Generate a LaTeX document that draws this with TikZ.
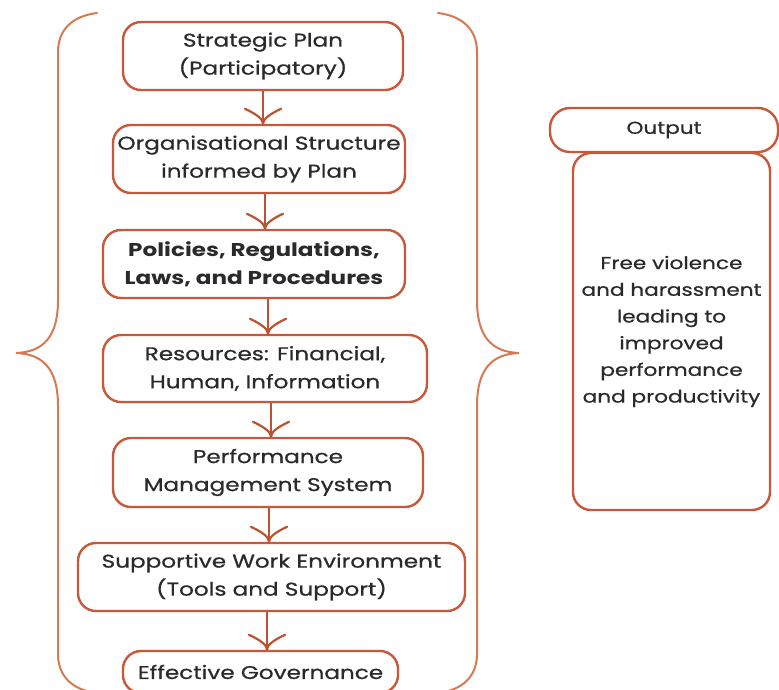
\documentclass[tikz,border=0pt]{standalone}
\usepackage{fontspec}
\setmainfont{Poppins}[FakeStretch=1.25, UprightFeatures={FakeBold=0.7}]
\usetikzlibrary{arrows.meta}

\definecolor{boxline}{RGB}{200,88,58}
\definecolor{braceline}{RGB}{214,122,84}
\definecolor{arrowline}{RGB}{188,82,50}
\definecolor{txt}{RGB}{42,42,42}

% open arrow head whose barbs flare outward from the tip
\pgfdeclarearrow{
  name = FlareBarb,
  parameters = {\the\pgfarrowlength,\the\pgfarrowwidth},
  setup code = {
    \pgfarrowssettipend{0pt}
    \pgfarrowssetlineend{-0.5\pgflinewidth}
    \pgfarrowsupperhullpoint{-\pgfarrowlength}{0.5\pgfarrowwidth}
    \pgfarrowsupperhullpoint{0pt}{0pt}
    \pgfarrowssavethe\pgfarrowlength
    \pgfarrowssavethe\pgfarrowwidth
  },
  drawing code = {
    \pgfsetdash{}{0pt}
    \pgfsetroundcap
    \pgfsetroundjoin
    \pgfpathmoveto{\pgfpoint{-\pgfarrowlength}{0.5\pgfarrowwidth}}
    \pgfpathcurveto{\pgfpoint{-0.62\pgfarrowlength}{0.16\pgfarrowwidth}}
                   {\pgfpoint{-0.3\pgfarrowlength}{0pt}}
                   {\pgfpointorigin}
    \pgfpathcurveto{\pgfpoint{-0.3\pgfarrowlength}{0pt}}
                   {\pgfpoint{-0.62\pgfarrowlength}{-0.16\pgfarrowwidth}}
                   {\pgfpoint{-\pgfarrowlength}{-0.5\pgfarrowwidth}}
    \pgfusepathqstroke
  },
  defaults = {length = 15pt, width = 36pt}
}

\begin{document}
\begin{tikzpicture}[x=1pt,y=-1pt,
  stage/.style={draw=boxline, line width=2.4pt, rounded corners=18pt,
    align=center, text=txt, inner sep=0pt,
    font=\fontsize{18.5}{28}\selectfont},
  outbox/.style={draw=boxline, line width=2.4pt, rounded corners=18pt,
    align=center, text=txt, inner sep=0pt,
    font=\fontsize{17.3}{26.7}\selectfont},
  flow/.style={draw=arrowline, line width=2.2pt, -{FlareBarb[length=15pt,width=36pt]}},
  brace/.style={draw=braceline, line width=2pt, line cap=round}]

\useasboundingbox (0,0) rectangle (779,689);
\clip (0,0) rectangle (779,689);

% process chain
\node[stage, minimum width=280pt, minimum height=68pt] (s1) at (263,56)
  {Strategic Plan\\(Participatory)};
\node[stage, minimum width=292pt, minimum height=68pt] (s2) at (259,159)
  {Organisational Structure\\informed by Plan};
\node[stage, minimum width=302pt, minimum height=68pt,
  font=\fontsize{18.5}{28}\selectfont\bfseries] (s3) at (254,264)
  {Policies, Regulations,\\Laws, and Procedures};
\node[stage, minimum width=324pt, minimum height=67pt] (s4) at (265,368.5)
  {Resources: Financial,\\Human, Information};
\node[stage, minimum width=310pt, minimum height=69pt] (s5) at (268,472.5)
  {Performance\\Management System};
\node[stage, minimum width=387pt, minimum height=68pt] (s6) at (271.5,577)
  {Supportive Work Environment\\(Tools and Support)};
\node[stage, minimum width=275pt, minimum height=42pt] (s7) at (260.5,672)
  {Effective Governance};

% arrows between stages
\draw[flow] ([xshift=0pt]s1.south) -- ([xshift=4pt]s2.north);
\draw[flow] ([xshift=6pt]s2.south) -- ([xshift=11pt]s3.north);
\draw[flow] ([xshift=14pt]s3.south) -- ([xshift=3pt]s4.north);
\draw[flow] ([xshift=6pt]s4.south) -- ([xshift=3pt]s5.north);
\draw[flow] ([xshift=1pt]s5.south) -- ([xshift=-2.5pt]s6.north);
\draw[flow] ([xshift=-4.5pt]s6.south) -- ([xshift=6.5pt]s7.north);

% braces around the chain
\draw[brace] (97,13) .. controls (72,16) and (58,30) .. (58,52)
  -- (58,300) .. controls (58,336) and (44,352) .. (16,353)
  .. controls (44,354) and (58,370) .. (58,406)
  -- (58,654) .. controls (58,676) and (72,690) .. (97,693);
\draw[brace] (438,13) .. controls (463,16) and (477,30) .. (477,52)
  -- (477,300) .. controls (477,336) and (491,352) .. (519,353)
  .. controls (491,354) and (477,370) .. (477,406)
  -- (477,654) .. controls (477,676) and (463,690) .. (438,693);

% output column
\node[outbox, minimum width=228pt, minimum height=44pt, rounded corners=20pt] (out) at (664,130)
  {Output};
\node[outbox, minimum width=197pt, minimum height=357pt] (res) at (671.5,331.5)
  {Free violence\\and harassment\\leading to\\improved\\performance\\and productivity};

\end{tikzpicture}
\end{document}
